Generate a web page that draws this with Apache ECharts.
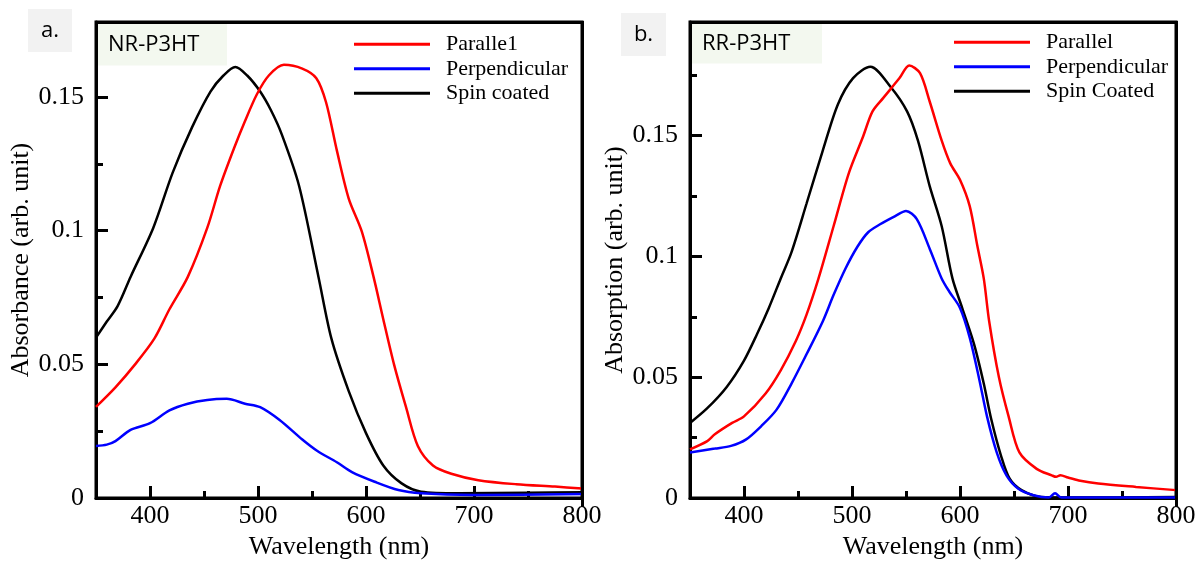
<!DOCTYPE html>
<html>
<head>
<meta charset="utf-8">
<script src="https://cdn.jsdelivr.net/npm/echarts@6/dist/echarts.min.js"></script>
<style>
  html, body { margin: 0; padding: 0; background: #fff; }
  #wrap { position: relative; width: 1200px; height: 565px; }
  #main { width: 1200px; height: 565px; }
  .frame { position: absolute; z-index: 10; box-sizing: border-box; border-top: 3px solid #000; border-right: 3px solid #000; pointer-events: none; top: 20.5px; width: 489px; height: 486px; }
  #frameA { left: 94.5px; }
  #frameB { left: 688.5px; }
</style>
</head>
<body>
<div id="wrap">
  <div id="main"></div>
  <div class="frame" id="frameA"></div>
  <div class="frame" id="frameB"></div>
</div>
<script>
// 图例名称
var seriesNamesA = ['Paralle1', 'Perpendicular', 'Spin coated'];
var seriesNamesB = ['Parallel', 'Perpendicular', 'Spin Coated'];
var seriesColors = ['#ff0000', '#0000ff', '#000000'];
var xTicks = [400, 500, 600, 700, 800];
var xRange = [350, 800];
var yMaxA = 0.178, yMaxB = 0.197;

// a. NR-P3HT
var nrParX = [350, 368, 386, 404, 418, 435, 453, 465, 478, 488, 499, 510, 524, 541, 554, 563, 573, 584, 596, 607, 616, 626, 637, 648, 662, 679, 704, 739, 775, 800];
var nrParY = [0.0341, 0.0414, 0.0499, 0.0596, 0.0706, 0.0827, 0.101, 0.1168, 0.131, 0.141, 0.151, 0.158, 0.162, 0.1606, 0.157, 0.148, 0.130, 0.112, 0.0998, 0.0827, 0.0669, 0.0499, 0.0341, 0.0195, 0.0122, 0.0091, 0.0067, 0.0052, 0.0043, 0.0036];
var nrPerX = [350, 360, 368, 382, 400, 418, 435, 453, 471, 488, 502, 520, 541, 555, 573, 587, 608, 630, 651, 700, 800];
var nrPerY = [0.0195, 0.0200, 0.0213, 0.0255, 0.028, 0.0328, 0.0353, 0.0367, 0.0371, 0.0353, 0.034, 0.0292, 0.0219, 0.0176, 0.0134, 0.0097, 0.0061, 0.003, 0.0018, 0.0012, 0.0015];
var nrSpinX = [350, 360, 370, 382, 403, 421, 439, 456, 468, 479, 490, 502, 512, 522, 538, 556, 568, 584, 600, 616, 633, 651, 686, 750, 800];
var nrSpinY = [0.060, 0.066, 0.0718, 0.0827, 0.101, 0.1217, 0.1387, 0.152, 0.158, 0.1612, 0.158, 0.152, 0.145, 0.136, 0.1168, 0.0827, 0.0596, 0.040, 0.0243, 0.0122, 0.0055, 0.0024, 0.0018, 0.002, 0.0022];

// b. RR-P3HT
var rrParX = [350, 366, 373, 389, 400, 420, 434, 448, 458, 469, 483, 497, 510, 519, 529, 544, 553, 563, 572, 583, 591, 600, 609, 616, 622, 627, 636, 645, 655, 671, 685, 689, 693, 700, 710, 728, 763, 800];
var rrParY = [0.0202, 0.0236, 0.0264, 0.0311, 0.0338, 0.0433, 0.0529, 0.065, 0.076, 0.0909, 0.1126, 0.1344, 0.1493, 0.160, 0.1656, 0.1738, 0.179, 0.1758, 0.164, 0.148, 0.1385, 0.1317, 0.1208, 0.1045, 0.0909, 0.0732, 0.0501, 0.0338, 0.0189, 0.0121, 0.0094, 0.0088, 0.0095, 0.0085, 0.0073, 0.006, 0.0046, 0.0033];
var rrPerX = [350, 373, 388, 402, 416, 430, 444, 458, 473, 483, 494, 505, 515, 526, 540, 550, 560, 572, 583, 590, 600, 609, 618, 625, 634, 643, 654, 668, 682, 688, 694, 800];
var rrPerY = [0.0189, 0.0205, 0.0216, 0.0243, 0.0298, 0.0365, 0.0474, 0.0596, 0.0732, 0.0841, 0.0950, 0.1040, 0.110, 0.1133, 0.1167, 0.1188, 0.1154, 0.1031, 0.0909, 0.0855, 0.0787, 0.0664, 0.0488, 0.0338, 0.0189, 0.0094, 0.0039, 0.0012, 0.0002, 0.002, 0.0002, 0.0002];
var rrSpinX = [350, 366, 384, 400, 412, 423, 434, 444, 458, 473, 487, 501, 517, 536, 551, 561, 572, 583, 593, 602, 613, 622, 629, 638, 646, 657, 675, 700, 800];
var rrSpinY = [0.0311, 0.0372, 0.046, 0.0569, 0.0678, 0.0787, 0.0909, 0.1018, 0.122, 0.1439, 0.163, 0.1738, 0.1785, 0.170, 0.160, 0.148, 0.129, 0.1126, 0.0909, 0.0787, 0.0637, 0.0474, 0.0325, 0.0175, 0.008, 0.0033, 0.0005, 0.0002, 0.0005];

function zip(xs, ys) {
  return xs.map(function (x, i) { return [x, ys[i]]; });
}

var serif = 'Liberation Serif';
var sans = 'Open Sans';

function makeX(idx) {
  return {
    type: 'value', gridIndex: idx, min: xRange[0], max: xRange[1], splitNumber: 5,
    name: 'Wavelength (nm)', nameLocation: 'middle', nameGap: 27,
    nameTextStyle: { fontFamily: serif, fontSize: 26, color: '#000' },
    axisLine: { lineStyle: { color: '#000', width: 3 } },
    axisTick: { inside: true, length: 12, lineStyle: { width: 3, color: '#000' } },
    minorTick: { show: true, splitNumber: 2, length: 7, lineStyle: { width: 3, color: '#000' } },
    axisLabel: {
      fontFamily: serif, fontSize: 26, color: '#000', margin: 5, showMinLabel: false,
      formatter: function (v) { return xTicks.indexOf(v) >= 0 ? String(v) : ''; }
    },
    splitLine: { show: false }
  };
}

function makeY(idx, max, title) {
  return {
    type: 'value', gridIndex: idx, min: 0, max: max, interval: 0.05,
    name: title, nameLocation: 'middle', nameGap: 62, nameRotate: 90,
    nameTextStyle: { fontFamily: serif, fontSize: 26, color: '#000' },
    axisLine: { lineStyle: { color: '#000', width: 3 } },
    axisTick: { inside: true, length: 12, lineStyle: { width: 3, color: '#000' } },
    minorTick: { show: true, splitNumber: 2, length: 7, lineStyle: { width: 3, color: '#000' } },
    axisLabel: { fontFamily: serif, fontSize: 26, color: '#000', margin: 12, showMaxLabel: false },
    splitLine: { show: false }
  };
}

function makeSeries(name, data, color, idx) {
  return {
    name: name, type: 'line', xAxisIndex: idx, yAxisIndex: idx,
    data: data, showSymbol: false, smooth: 0.3,
    lineStyle: { color: color, width: 2.5 }, itemStyle: { color: color },
    z: 3 - seriesColors.indexOf(color)
  };
}

function makeLegend(left, top, names) {
  return {
    orient: 'vertical', left: left, top: top, padding: 0, itemGap: 0,
    itemWidth: 76, itemHeight: 3, icon: 'rect', data: names,
    textStyle: { fontFamily: serif, fontSize: 22, color: '#000', lineHeight: 24.5, padding: [0, 0, 0, 11] }
  };
}

function panelLabel(letter, bx, by, bw, bh, tag, tx, tw, th) {
  return [
    { type: 'rect', shape: { x: bx, y: by, width: bw, height: bh }, style: { fill: '#f2f2f2' }, z: 10 },
    { type: 'text', x: bx + bw / 2, y: by + bh / 2,
      style: { text: letter, font: '22px "' + sans + '"', fill: '#000', align: 'center', verticalAlign: 'middle' }, z: 11 },
    { type: 'rect', shape: { x: tx, y: 23.5, width: tw, height: th }, style: { fill: '#f3f8ef' }, z: 10 },
    { type: 'text', x: tx + 10, y: 23.5 + th / 2,
      style: { text: tag, font: '22px "' + sans + '"', fill: '#000', align: 'left', verticalAlign: 'middle' }, z: 11 }
  ];
}

var myChart = echarts.init(document.getElementById('main'), null, { renderer: 'canvas' });

var option = {
  backgroundColor: '#fff',
  animation: false,
  grid: [
    { left: 96, right: 618, top: 22, bottom: 60, show: true, borderColor: '#000', borderWidth: 3 },
    { left: 690, right: 24, top: 22, bottom: 60, show: true, borderColor: '#000', borderWidth: 3 }
  ],
  xAxis: [makeX(0), makeX(1)],
  yAxis: [makeY(0, yMaxA, 'Absorbance (arb. unit)'), makeY(1, yMaxB, 'Absorption (arb. unit)')],
  legend: [makeLegend(354, 32, seriesNamesA), makeLegend(954, 30, seriesNamesB)],
  graphic: panelLabel('a.', 28, 9, 44, 43, 'NR-P3HT', 98, 129, 42)
    .concat(panelLabel('b.', 621, 13, 45, 43, 'RR-P3HT', 692, 130, 40)),
  series: [
    makeSeries(seriesNamesA[0], zip(nrParX, nrParY), seriesColors[0], 0),
    makeSeries(seriesNamesA[1], zip(nrPerX, nrPerY), seriesColors[1], 0),
    makeSeries(seriesNamesA[2], zip(nrSpinX, nrSpinY), seriesColors[2], 0),
    makeSeries(seriesNamesB[0], zip(rrParX, rrParY), seriesColors[0], 1),
    makeSeries(seriesNamesB[1], zip(rrPerX, rrPerY), seriesColors[1], 1),
    makeSeries(seriesNamesB[2], zip(rrSpinX, rrSpinY), seriesColors[2], 1)
  ]
};
myChart.setOption(option);
</script>
</body>
</html>
